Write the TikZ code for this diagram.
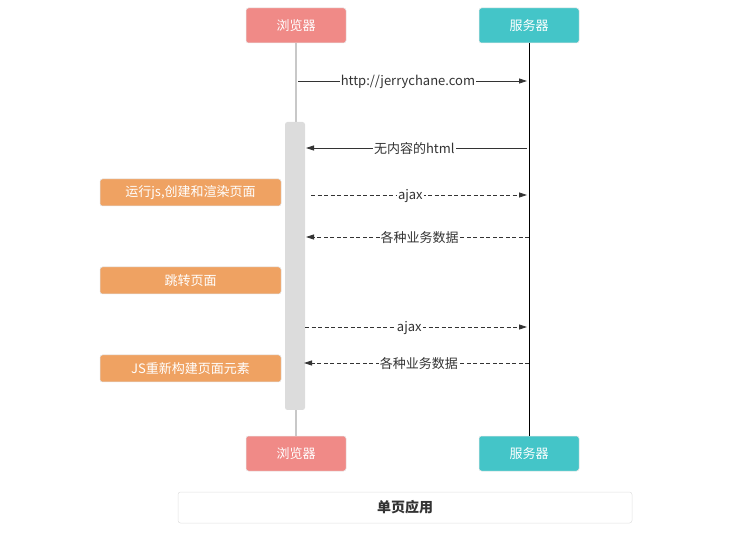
\documentclass[tikz,border=0pt]{standalone}
\usepackage{fontspec}
\setmainfont{Noto Sans CJK SC}
\usetikzlibrary{arrows.meta}
\definecolor{brw}{HTML}{F08A87}
\definecolor{srv}{HTML}{44C5C8}
\definecolor{org}{HTML}{EFA262}
\definecolor{actg}{HTML}{DCDCDC}
\definecolor{lifeg}{HTML}{C8C8C8}
\definecolor{txt}{HTML}{333333}
\begin{document}
\begin{tikzpicture}[x=1pt,y=-1pt,
  actor/.style={draw=white!90!black,line width=0.5pt,rounded corners=2.5pt,minimum width=100pt,minimum height=35pt,text=white,font=\fontsize{13}{15}\selectfont,inner sep=0pt},
  note/.style={draw=white!88!black,line width=0.5pt,fill=org,rounded corners=2.5pt,minimum width=181pt,minimum height=27pt,text=white,font=\fontsize{13}{15}\selectfont,inner sep=0pt},
  msg/.style={line width=0.8pt,draw=txt,-{Triangle[length=8pt,width=5pt]}},
  dmsg/.style={msg,dash pattern=on 4pt off 2.5pt},
  lbl/.style={fill=white,text=txt,inner sep=1pt,font=\fontsize{13}{15}\selectfont}]
\useasboundingbox (0,0) rectangle (756,540);
% actors and lifelines
\node[actor,fill=brw] (b1) at (296,25.5) {浏览器};
\node[actor,fill=srv] (s1) at (529,25.5) {服务器};
\node[actor,fill=brw] (b2) at (296,453.5) {浏览器};
\node[actor,fill=srv] (s2) at (529,453.5) {服务器};
\draw[lifeg,line width=1.5pt] (b1.south) -- (b2.north);
\draw[black,line width=1pt] (s1.south) -- (s2.north);
\node[fill=actg,rounded corners=2.5pt,minimum width=20pt,minimum height=288pt,inner sep=0pt] (act) at (295,266) {};
% coordinates for messages
\coordinate (m1a) at (298,81);  \coordinate (m1b) at (527,81);
\coordinate (m2a) at (527,148); \coordinate (m2b) at (306,148);
\coordinate (m3a) at (311,195); \coordinate (m3b) at (527,195);
\coordinate (m4a) at (529,237); \coordinate (m4b) at (306,237);
\coordinate (m5a) at (305,327); \coordinate (m5b) at (527,327);
\coordinate (m6a) at (529,363); \coordinate (m6b) at (304,363);
\draw[msg] (m1a) -- (m1b) node[lbl,pos=0.48,yshift=-1pt] {http://jerrychane.com};
\draw[msg] (m2a) -- (m2b) node[lbl,pos=0.51,yshift=-1pt] {无内容的html};
\draw[dmsg] (m3a) -- (m3b) node[lbl,pos=0.46,yshift=-1pt] {ajax};
\draw[dmsg] (m4a) -- (m4b) node[lbl,pos=0.49,yshift=-1pt] {各种业务数据};
\draw[dmsg] (m5a) -- (m5b) node[lbl,pos=0.47,yshift=-1pt] {ajax};
\draw[dmsg] (m6a) -- (m6b) node[lbl,pos=0.49,yshift=-1pt] {各种业务数据};
% notes
\node[note] (n1) at (190.5,192.5) {运行js,创建和渲染页面};
\node[note] (n2) at (190.5,280.5) {跳转页面};
\node[note] (n3) at (190.5,368.5) {JS重新构建页面元素};
% caption
\node[draw=white!88!black,line width=0.5pt,rounded corners=2.5pt,minimum width=454pt,minimum height=31pt,inner sep=0pt,text=txt,font=\fontsize{14}{16}\selectfont\bfseries] (cap) at (405,507.5) {单页应用};
\end{tikzpicture}
\end{document}
